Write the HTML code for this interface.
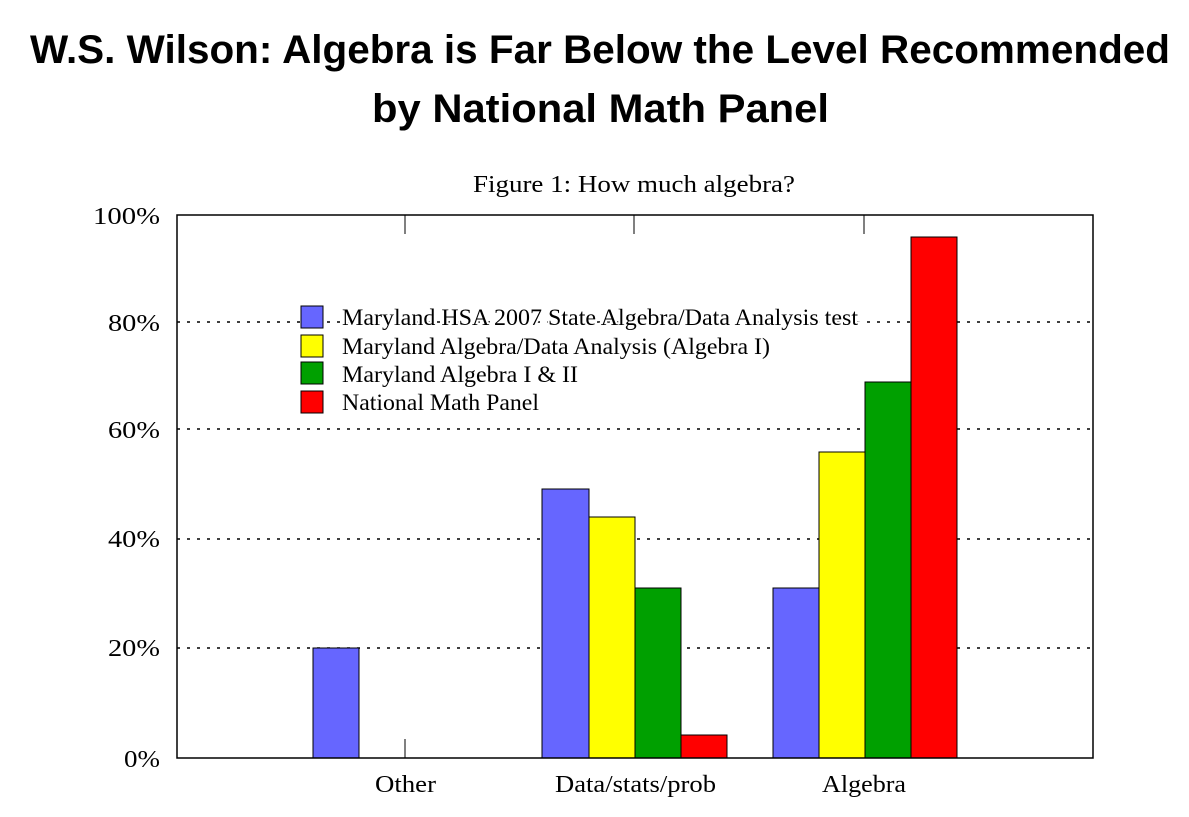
<!DOCTYPE html>
<html><head><style>
body{margin:0;background:#fff;width:1189px;height:812px;overflow:hidden}
</style></head><body>
<svg width="1189" height="812" xmlns="http://www.w3.org/2000/svg">
<text x="30" y="63" textLength="1140" lengthAdjust="spacingAndGlyphs" font-family="Liberation Sans, sans-serif" font-weight="bold" font-size="40">W.S. Wilson:  Algebra is Far Below the Level Recommended</text>
<text x="372" y="122" textLength="457" lengthAdjust="spacingAndGlyphs" font-family="Liberation Sans, sans-serif" font-weight="bold" font-size="40">by National Math Panel</text>
<text x="473" y="192" textLength="322" lengthAdjust="spacingAndGlyphs" font-family="Liberation Serif, serif" font-size="24">Figure 1:  How much algebra?</text>
<g font-family="Liberation Serif, serif" font-size="24">
<text x="93" y="224" textLength="67" lengthAdjust="spacingAndGlyphs">100%</text>
<text x="108" y="331" textLength="52" lengthAdjust="spacingAndGlyphs">80%</text>
<text x="108" y="438" textLength="52" lengthAdjust="spacingAndGlyphs">60%</text>
<text x="108" y="547" textLength="52" lengthAdjust="spacingAndGlyphs">40%</text>
<text x="108" y="656" textLength="52" lengthAdjust="spacingAndGlyphs">20%</text>
<text x="124" y="767" textLength="36" lengthAdjust="spacingAndGlyphs">0%</text>
</g>
<g stroke="#000" stroke-width="1.5" stroke-dasharray="3,7">
<line x1="177" y1="322" x2="1093" y2="322"/><line x1="177" y1="429" x2="1093" y2="429"/>
<line x1="177" y1="539" x2="1093" y2="539"/><line x1="177" y1="648" x2="1093" y2="648"/>
</g>
<g stroke="#000" stroke-width="1">
<rect x="313" y="648" width="46" height="110" fill="#6666ff"/>
<rect x="542" y="489" width="47" height="269" fill="#6666ff"/>
<rect x="589" y="517" width="46" height="241" fill="#ffff00"/>
<rect x="635" y="588" width="46" height="170" fill="#00a000"/>
<rect x="681" y="735" width="46" height="23" fill="#ff0000"/>
<rect x="773" y="588" width="46" height="170" fill="#6666ff"/>
<rect x="819" y="452" width="46" height="306" fill="#ffff00"/>
<rect x="865" y="382" width="46" height="376" fill="#00a000"/>
<rect x="911" y="237" width="46" height="521" fill="#ff0000"/>
</g>
<rect x="177" y="215" width="916" height="543" fill="none" stroke="#000" stroke-width="1.5"/>
<g stroke="#000" stroke-width="1">
<line x1="405" y1="215" x2="405" y2="234"/><line x1="634" y1="215" x2="634" y2="234"/><line x1="864" y1="215" x2="864" y2="234"/>
<line x1="405" y1="758" x2="405" y2="739"/>
</g>
<g stroke="#000" stroke-width="1">
<rect x="301" y="306" width="22" height="22" fill="#6666ff"/>
<rect x="301" y="335" width="22" height="22" fill="#ffff00"/>
<rect x="301" y="362" width="22" height="22" fill="#00a000"/>
<rect x="301" y="391" width="22" height="22" fill="#ff0000"/>
</g>
<g font-family="Liberation Serif, serif" font-size="23">
<text x="342" y="325" textLength="516" lengthAdjust="spacingAndGlyphs" style="paint-order:stroke" stroke="#fff" stroke-width="4">Maryland HSA 2007 State Algebra/Data Analysis test</text>
<text x="342" y="354" textLength="428" lengthAdjust="spacingAndGlyphs">Maryland Algebra/Data Analysis (Algebra I)</text>
<text x="342" y="382" textLength="236" lengthAdjust="spacingAndGlyphs">Maryland Algebra I &amp; II</text>
<text x="342" y="410" textLength="197" lengthAdjust="spacingAndGlyphs">National Math Panel</text>
</g>
<g font-family="Liberation Serif, serif" font-size="24">
<text x="375" y="792" textLength="61" lengthAdjust="spacingAndGlyphs">Other</text>
<text x="555" y="792" textLength="161" lengthAdjust="spacingAndGlyphs">Data/stats/prob</text>
<text x="822" y="792" textLength="84" lengthAdjust="spacingAndGlyphs">Algebra</text>
</g>
</svg>
</body></html>
